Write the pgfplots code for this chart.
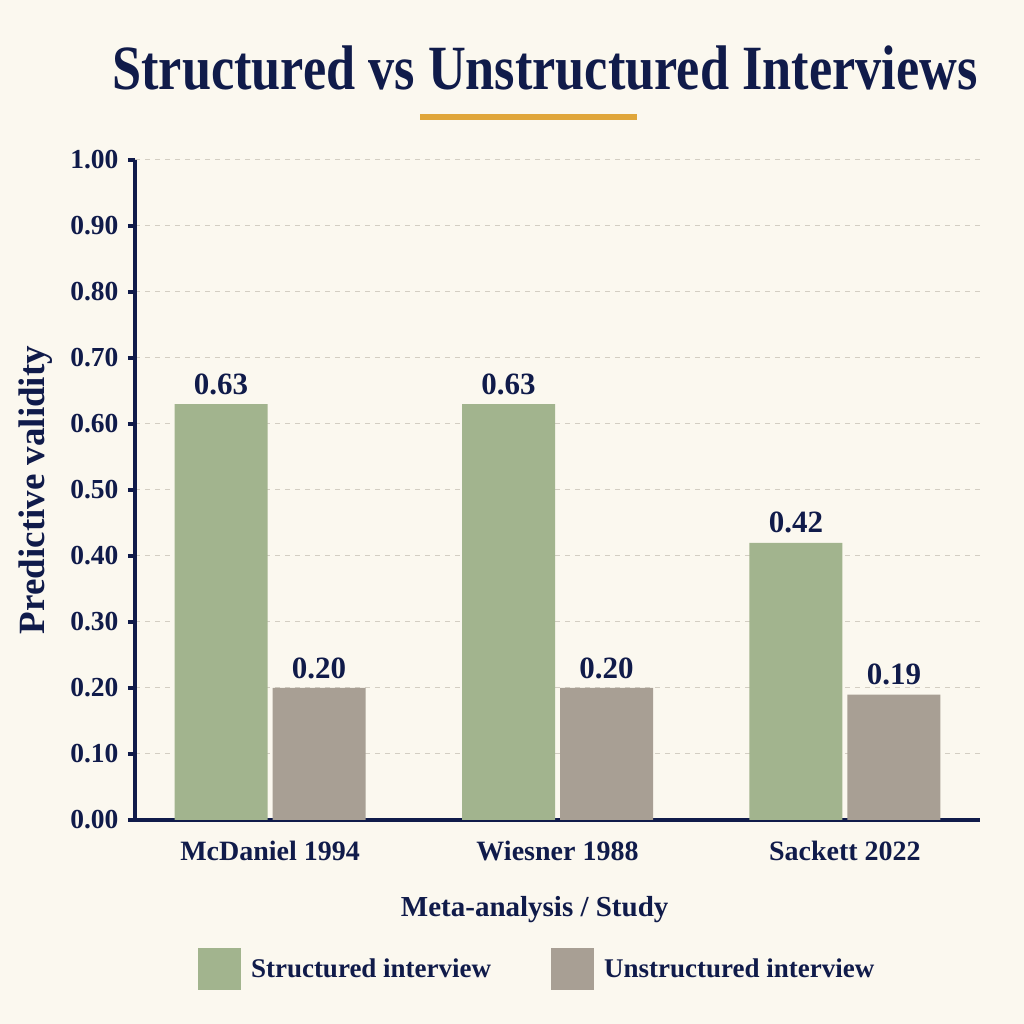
\documentclass[border=0pt]{standalone}
\usepackage{fontspec}
\setmainfont{Liberation Serif}
\usepackage{graphicx}
\usepackage{pgfplots}
\pgfplotsset{compat=1.18}

\definecolor{bg}{HTML}{FBF8EF}
\definecolor{navy}{HTML}{101B4A}
\definecolor{gold}{HTML}{E0A63A}
\definecolor{sgreen}{HTML}{A2B48E}
\definecolor{ugray}{HTML}{A89F94}
\definecolor{gridgray}{HTML}{D3CEC3}

\newcommand{\fs}[1]{\fontsize{#1}{#1}\selectfont}

% square swatch for the legend
\pgfplotsset{sqlegend/.style={legend image code/.code={%
  \path[##1,draw=none] (0pt,-21pt) rectangle (43pt,21pt);}}}

\begin{document}
\begin{tikzpicture}[x=1pt,y=1pt]
\fill[bg] (0,0) rectangle (1024,1024);
\node[text=navy, font=\bfseries\fs{63}] at (545,956)
  {\scalebox{0.83}[1]{Structured vs Unstructured Interviews}};
\fill[gold] (420,904) rectangle (637,909.5);

\begin{axis}[
  at={(135pt,204pt)}, anchor=south west,
  scale only axis, width=845pt, height=660pt,
  xmin=-0.47, xmax=2.47, ymin=0, ymax=1,
  axis x line*=bottom, axis y line*=left,
  axis line style={-, navy, line width=3.2pt},
  x axis line style={shorten <=-7pt},
  ytick={0,0.1,0.2,0.3,0.4,0.5,0.6,0.7,0.8,0.9,1.0},
  yticklabel style={font=\bfseries\fs{27.5}, text=navy, xshift=-6pt,
    /pgf/number format/.cd, fixed, fixed zerofill, precision=2, assume math mode=true},
  ytick style={navy, line width=3.2pt},
  tick align=outside, major tick length=7pt,
  ymajorgrids, grid style={gridgray, line width=1pt, dash pattern=on 5pt off 5pt},
  xtick={0,1,2},
  xticklabels={McDaniel 1994, Wiesner 1988, Sackett 2022},
  xtick style={draw=none},
  xticklabel style={font=\bfseries\fs{28}, text=navy, yshift=-11pt},
  xlabel={Meta-analysis / Study},
  xlabel style={font=\bfseries\fs{29}, text=navy, at={(axis description cs:0.473,-0.136)}, anchor=center},
  ylabel={Predictive validity},
  ylabel style={font=\bfseries\fs{37}, text=navy, at={(axis description cs:-0.118,0.5)}, anchor=center},
  ybar=5pt, bar width=93pt,
  nodes near coords,
  nodes near coords style={font=\bfseries\fs{31}, text=navy, yshift=6pt,
    /pgf/number format/.cd, fixed, fixed zerofill, precision=2, assume math mode=true},
  legend columns=2,
  legend style={at={(axis description cs:0.476,-0.226)}, anchor=center,
    draw=none, fill=none, font=\bfseries\fs{27}, text=navy,
    /tikz/every odd column/.append style={column sep=8pt},
    /tikz/every even column/.append style={column sep=58pt}},
]
\addplot[fill=sgreen, draw=none, sqlegend]
  coordinates {(0,0.63) (1,0.63) (2,0.42)};
\addplot[fill=ugray, draw=none, sqlegend]
  coordinates {(0,0.20) (1,0.20) (2,0.19)};
\legend{Structured interview, Unstructured interview}
\end{axis}
\end{tikzpicture}
\end{document}
